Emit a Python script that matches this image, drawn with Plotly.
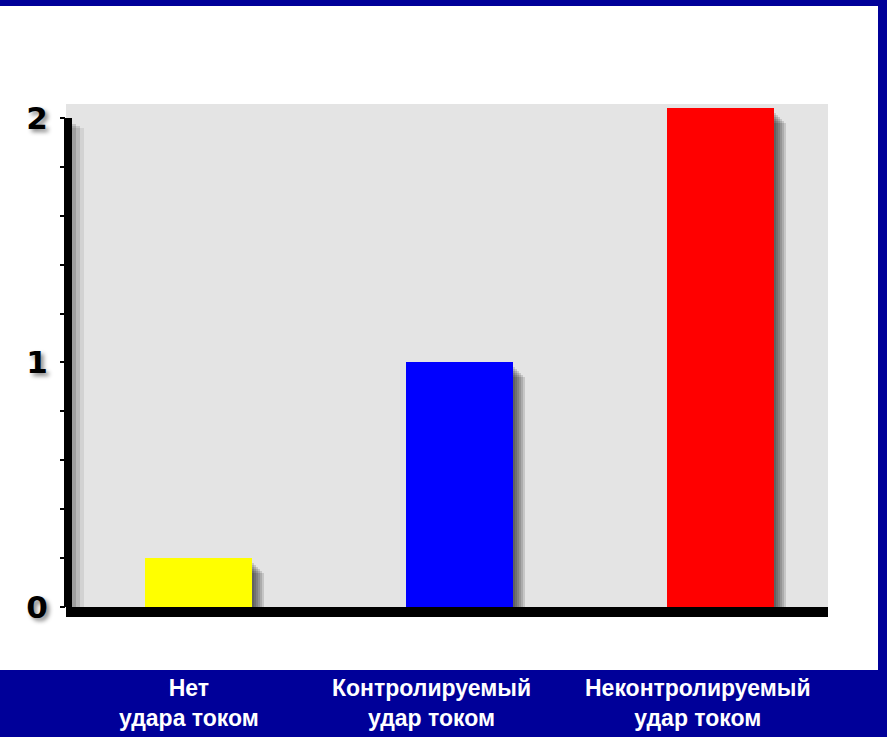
import plotly.graph_objects as go

# ---------------- data ----------------
categories = ["Нет<br>удара током", "Контролируемый<br>удар током", "Неконтролируемый<br>удар током"]
values = [0.2, 1.0, 2.04]
bar_colors = ["#ffff00", "#0000ff", "#ff0000"]
y_tickvals = [0, 1, 2]
y_ticktext = ["0", "1", "2"]

# ---------------- layout geometry ----------------
W, H = 887, 737
M_L, M_R, M_T, M_B = 66, 59, 104, 130
X_RANGE = [-0.508, 2.412]
Y_RANGE = [0, 2.057]
PLOT_W = W - M_L - M_R
PLOT_H = H - M_T - M_B
PX_X = (X_RANGE[1] - X_RANGE[0]) / PLOT_W   # data units per pixel (x)
PX_Y = (Y_RANGE[1] - Y_RANGE[0]) / PLOT_H   # data units per pixel (y)
BAR_W = 0.41
NAVY = "#000099"


def paper_x(px):
    return (px - M_L) / PLOT_W


def paper_y(py):
    return (H - M_B - py) / PLOT_H


xs = list(range(len(categories)))

fig = go.Figure()

# soft drop shadows of the bars (several translucent layers)
for shift_px in [2, 4, 6, 8, 10, 12]:
    dx = shift_px * PX_X
    dy = (shift_px + 3) * PX_Y
    fig.add_trace(go.Bar(
        x=xs, y=values, base=-dy, width=BAR_W, offset=-BAR_W / 2 + dx,
        marker=dict(color="rgba(0,0,0,0.13)", line=dict(width=0)),
        cliponaxis=False, hoverinfo="skip", showlegend=False,
    ))

# main bars
fig.add_trace(go.Bar(
    x=xs, y=values, width=BAR_W, offset=-BAR_W / 2,
    marker=dict(color=bar_colors, line=dict(width=0)),
    showlegend=False,
))

shapes = [
    # navy frame
    dict(type="rect", xref="paper", yref="paper", layer="below", line=dict(width=0),
         fillcolor=NAVY, x0=paper_x(0), x1=paper_x(W), y0=paper_y(6), y1=paper_y(0)),
    dict(type="rect", xref="paper", yref="paper", layer="below", line=dict(width=0),
         fillcolor=NAVY, x0=paper_x(878), x1=paper_x(W), y0=paper_y(H), y1=paper_y(0)),
    dict(type="rect", xref="paper", yref="paper", layer="below", line=dict(width=0),
         fillcolor=NAVY, x0=paper_x(0), x1=paper_x(W), y0=paper_y(H), y1=paper_y(670)),
]
# y-axis shadow (layers)
for w_px, a in [(4, 0.14), (8, 0.12), (12, 0.08)]:
    shapes.append(dict(type="rect", xref="paper", yref="y", layer="below", line=dict(width=0),
                       fillcolor=f"rgba(0,0,0,{a})", x0=paper_x(72), x1=paper_x(72 + w_px),
                       y0=0, y1=max(y_tickvals) - (4 + w_px / 2) * PX_Y))
# y-axis line (from 0 to top tick)
shapes.append(dict(type="line", xref="paper", yref="y", layer="above",
                   x0=paper_x(68), x1=paper_x(68), y0=-10 * PX_Y, y1=max(y_tickvals),
                   line=dict(color="black", width=8)))

annotations = []
label_xshift = [-10, -28, -22]
for i, lab in enumerate(categories):
    annotations.append(dict(
        x=xs[i], xref="x", y=0, yref="paper", yshift=-96, xshift=label_xshift[i],
        text=lab, showarrow=False, yanchor="middle", xanchor="center", align="center",
        font=dict(family="Liberation Sans, Arial", size=23, color="white", weight="bold"),
    ))

fig.update_layout(
    width=W, height=H,
    margin=dict(l=M_L, r=M_R, t=M_T, b=M_B, pad=0),
    paper_bgcolor="white", plot_bgcolor="#e4e4e4",
    barmode="overlay", bargap=0,
    shapes=shapes, annotations=annotations,
    xaxis=dict(
        range=X_RANGE, showticklabels=False, ticks="", showgrid=False, zeroline=False,
        showline=True, linecolor="black", linewidth=10, fixedrange=True,
    ),
    yaxis=dict(
        range=Y_RANGE, tickvals=y_tickvals, ticktext=y_ticktext,
        showgrid=False, zeroline=False, showline=False,
        ticks="outside", ticklen=5, tickwidth=2, tickcolor="black",
        minor=dict(dtick=0.2, ticks="outside", ticklen=5, tickwidth=2, tickcolor="black", showgrid=False),
        ticklabelstandoff=6,
        tickfont=dict(family="DejaVu Sans", size=31, color="black", weight="bold",
                      shadow="3px 3px 4px rgba(0,0,0,0.45)"),
        fixedrange=True,
    ),
)

fig.write_html("out.html", config={"displayModeBar": False},
               post_script="document.body.style.margin='0';")
